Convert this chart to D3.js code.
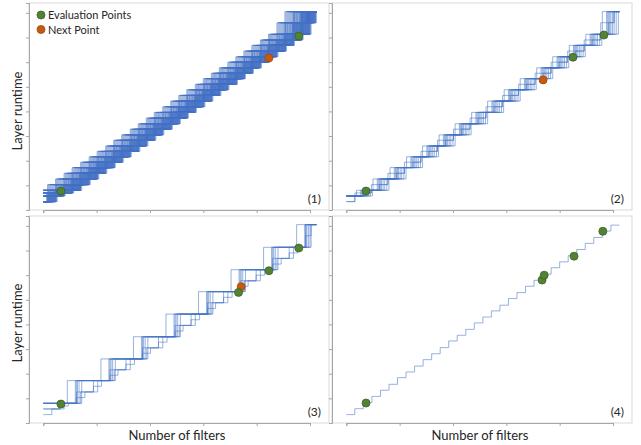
<!DOCTYPE html>
<html>
<head>
<meta charset="utf-8">
<script src="https://cdn.jsdelivr.net/npm/d3@7"></script>
<style>
  body { margin: 0; background: #fff; }
  text { font-family: Lato, "Open Sans", sans-serif; fill: #262626; }
</style>
</head>
<body>
<svg id="chart" width="641" height="445"></svg>
<script>
// ticks (no labels in the picture)
xTicks = [0, 100, 200, 300, 400, 500];
yTicks = [1, 2, 3, 4, 5, 6, 7, 8];

// candidate step positions (number of filters) shared by panels 1-3
gridX = [0, 16, 31, 47, 62, 78, 94, 109, 125, 140, 155, 171, 186, 201, 216, 232, 247,
         262, 277, 293, 308, 323, 338, 354, 369, 384, 399, 415, 430, 446, 461, 477, 492, 502, 512];
// runtime on each of those steps
gridY = [0.34, 0.57, 0.69, 0.80, 1.03, 1.26, 1.49, 1.72, 1.94, 2.16, 2.38, 2.60,
         2.83, 3.05, 3.28, 3.50, 3.73, 3.96, 4.19, 4.42, 4.65, 4.88, 5.10, 5.33,
         5.55, 5.77, 6.00, 6.22, 6.45, 6.68, 6.90, 7.13, 7.60, 8.05];

// final fitted staircase (panel 4)
finalX = [0, 16, 32, 48, 64, 80, 96, 112, 128, 144, 160, 176, 192, 208, 224, 240, 256,
          272, 288, 304, 320, 336, 352, 368, 384, 400, 416, 432, 448, 464, 480, 496, 512];
finalY = [0.34, 0.58, 0.83, 1.08, 1.33, 1.57, 1.84, 2.07, 2.31, 2.57, 2.81, 3.06, 3.33,
          3.56, 3.80, 4.06, 4.30, 4.55, 4.78, 5.05, 5.29, 5.55, 5.79, 6.04, 6.30, 6.54,
          6.79, 7.04, 7.29, 7.53, 7.79, 8.03];

// hypotheses still alive: [steps per group, phase, shifts in filters]
dense = [-10, -8, -7, -6, -5, -4, -3, -2, -1, 0, 1, 2, 3, 4, 5, 6, 7, 8, 10];
hyp1 = [[1, 0, [-8, -4, 0, 4, 8]],
        [2, 0, dense],
        [2, 1, dense],
        [3, 0, [-6, -3, 0, 3, 6]],
        [3, 1, [-6, -3, 0, 3, 6]],
        [3, 2, [-6, -3, 0, 3, 6]],
        [4, 0, [-8, -6, -4, -2, 0, 2, 4, 6, 8]],
        [4, 1, [-8, -6, -4, -2, 0, 2, 4, 6, 8]],
        [4, 2, [-8, -6, -4, -2, 0, 2, 4, 6, 8]],
        [4, 3, [-8, -6, -4, -2, 0, 2, 4, 6, 8]]];
hyp2 = [[2, 0, [-12, -4, -2, 0, 2, 4, 7, 10, 14, 18]],
        [2, 1, [0]],
        [1, 0, [0]]];
hyp3 = [[4, 0, [-17, -2, 0, 2, 5, 10]],
        [2, 0, [0, 8]],
        [1, 0, [0]]];

// evaluated points and the next proposed point
evalX1 = [33, 479];            evalY1 = [0.77, 7.06];
nextX1 = [423];                nextY1 = [6.17];
evalX2 = [37, 425, 483];       evalY2 = [0.77, 6.20, 7.10];
nextX2 = [369];                nextY2 = [5.28];
evalX3 = [33, 366, 423, 479];  evalY3 = [0.77, 5.30, 6.18, 7.10];
nextX3 = [371];                nextY3 = [5.53];
evalX4 = [37, 367, 371, 427, 481]; evalY4 = [0.81, 5.80, 6.00, 6.77, 7.78];
nextX4 = [];                   nextY4 = [];

blue = "#4472c4";
green = "#548235";
orange = "#c55a11";

svg = d3.select("#chart");
pw = 300;
ph = 207;

x = d3.scaleLinear().domain([0, 500]).range([14.3, 281]);
y = d3.scaleLinear().domain([0, 8.4]).range([ph, 0]);

// turn a group size / phase / shift into a staircase
function stairs(gx, gy, g, p, dx) {
  n = gy.length;
  cuts = [0];
  for (k = p; k < n; k += g) if (k > 0) cuts.push(k);
  cuts.push(n);
  out = [];
  for (i = 0; i < cuts.length - 1; i++) {
    lv = gy[cuts[i + 1] - 1];
    x0 = i == 0 ? gx[0] : Math.max(gx[0], Math.min(gx[n], gx[cuts[i]] + dx));
    x1 = i == cuts.length - 2 ? gx[n] : Math.max(gx[0], Math.min(gx[n], gx[cuts[i + 1]] + dx));
    out.push([x0, lv], [x1, lv]);
  }
  return out;
}

function hypotheses(hyp) {
  list = [];
  hyp.forEach(h => h[2].forEach(s => list.push(stairs(gridX, gridY, h[0], h[1], s))));
  return list;
}

line = d3.line().x(d => x(d[0])).y(d => y(d[1]));

function drawPanel(ox, oy, lines, ex, ey, nx, ny, label, alpha) {
  g = svg.append("g").attr("transform", `translate(${ox},${oy})`);

  // frame
  g.append("rect")
    .attr("x", 0).attr("y", 0).attr("width", pw).attr("height", ph)
    .attr("fill", "none").attr("stroke", "#d9d9d9");

  // axes, ticks only
  xa = g.append("g").attr("transform", `translate(0,${ph})`)
    .call(d3.axisBottom(x).tickValues(xTicks).tickSize(3).tickFormat(""));
  ya = g.append("g")
    .call(d3.axisLeft(y).tickValues(yTicks).tickSize(3).tickFormat(""));
  [xa, ya].forEach(a => {
    a.select(".domain").attr("stroke", "#a6a6a6");
    a.selectAll(".tick line").attr("stroke", "#a6a6a6");
  });

  // staircases
  g.append("g").selectAll("path")
    .data(lines)
    .enter().append("path")
      .attr("d", line)
      .attr("fill", "none")
      .attr("stroke", blue)
      .attr("stroke-width", 1)
      .attr("stroke-opacity", alpha);

  g.selectAll(".next")
    .data(nx.map((v, i) => [v, ny[i]]))
    .enter().append("circle")
      .attr("class", "next")
      .attr("cx", d => x(d[0])).attr("cy", d => y(d[1])).attr("r", 4)
      .attr("fill", orange).attr("stroke", "#a3480c").attr("stroke-width", 0.8);

  g.selectAll(".eval")
    .data(ex.map((v, i) => [v, ey[i]]))
    .enter().append("circle")
      .attr("class", "eval")
      .attr("cx", d => x(d[0])).attr("cy", d => y(d[1])).attr("r", 4)
      .attr("fill", green).attr("stroke", "#3b6224").attr("stroke-width", 0.8);

  g.append("text")
    .attr("x", pw - 8).attr("y", ph - 7)
    .attr("text-anchor", "end")
    .attr("font-size", 12)
    .text(label);
  return g;
}

p1 = drawPanel(29, 3, hypotheses(hyp1), evalX1, evalY1, nextX1, nextY1, "(1)", 0.6);
drawPanel(332, 3, hypotheses(hyp2), evalX2, evalY2, nextX2, nextY2, "(2)", 0.55);
drawPanel(29, 216, hypotheses(hyp3), evalX3, evalY3, nextX3, nextY3, "(3)", 0.55);
drawPanel(332, 216, [stairs(finalX, finalY, 1, 0, 0)], evalX4, evalY4, nextX4, nextY4, "(4)", 0.55);

// legend inside panel 1
legend = [["Evaluation Points", green, "#3b6224"], ["Next Point", orange, "#a3480c"]];
leg = p1.selectAll(".leg").data(legend).enter().append("g")
  .attr("transform", (d, i) => `translate(12,${12 + i * 14.5})`);
leg.append("circle").attr("r", 4).attr("fill", d => d[1]).attr("stroke", d => d[2]).attr("stroke-width", 0.8);
leg.append("text").attr("x", 7).attr("y", 4).attr("font-size", 11).text(d => d[0]);

// axis titles
[111, 323].forEach(cy => {
  svg.append("text")
    .attr("transform", `translate(22,${cy}) rotate(-90)`)
    .attr("text-anchor", "middle")
    .attr("font-size", 13)
    .text("Layer runtime");
});
[177, 480].forEach(cx => {
  svg.append("text")
    .attr("x", cx).attr("y", 440)
    .attr("text-anchor", "middle")
    .attr("font-size", 13)
    .text("Number of filters");
});
</script>
</body>
</html>
